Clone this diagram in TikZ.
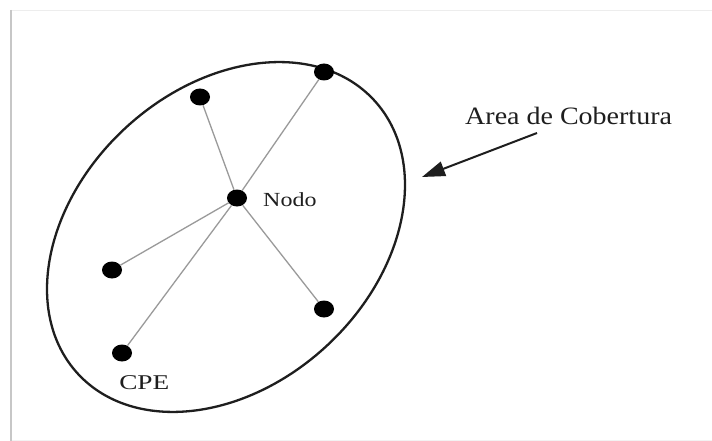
\documentclass[tikz,border=0pt]{standalone}
\usepackage{fontspec}
\setmainfont{Liberation Serif}
\usetikzlibrary{shapes.geometric,arrows.meta}
\definecolor{ink}{HTML}{1E1E1E}
\definecolor{spoke}{HTML}{9A9A9A}
\tikzset{
  dot/.style={ellipse, fill=black, inner sep=0pt, minimum width=20pt, minimum height=17pt},
  spokeline/.style={draw=spoke, line width=1.3pt},
  lbl/.style={inner sep=0pt, text=ink, transform shape}
}
\begin{document}
\begin{tikzpicture}[x=1pt,y=-1pt]
\useasboundingbox (0,0) rectangle (712,441);
\fill[white] (0,0) rectangle (712,441);
% frame
\draw[draw=black!7, line width=1.5pt] (10,10.5) -- (712,10.5);
\draw[draw=black!5, line width=1pt] (10,440) -- (712,440);
\draw[draw=black!22, line width=2.5pt] (11,10) -- (11,441);
% coverage area
\draw[ink, line width=2.3pt, rotate around={42.8:(226,237)}] (226,237) ellipse [x radius=201.6, y radius=148.3];
% nodes
\node[dot] (n) at (237,198) {};
\node[dot] (d1) at (200,97) {};
\node[dot] (d2) at (324,72) {};
\node[dot] (d3) at (112,270) {};
\node[dot] (d4) at (122,353) {};
\node[dot] (d5) at (324,309) {};
\foreach \d in {d1,d2,d3,d4,d5} \draw[spokeline] (n) -- (\d);
% labels
\node[lbl, anchor=base west, xscale=1.2, font=\fontsize{20}{20}\selectfont] (nl) at (263,206) {Nodo};
\node[lbl, anchor=base west, xscale=1.12, font=\fontsize{25}{25}\selectfont] (al) at (465,125) {Area de Cobertura};
\node[lbl, anchor=base west, xscale=1.3, font=\fontsize{21}{21}\selectfont] (cl) at (119,389) {CPE};
% arrow
\coordinate (as) at (537,133);
\coordinate (at) at (422,177);
\draw[ink, line width=2pt, -{Triangle[length=23pt,width=15pt]}] (as) -- (at);
\end{tikzpicture}
\end{document}
